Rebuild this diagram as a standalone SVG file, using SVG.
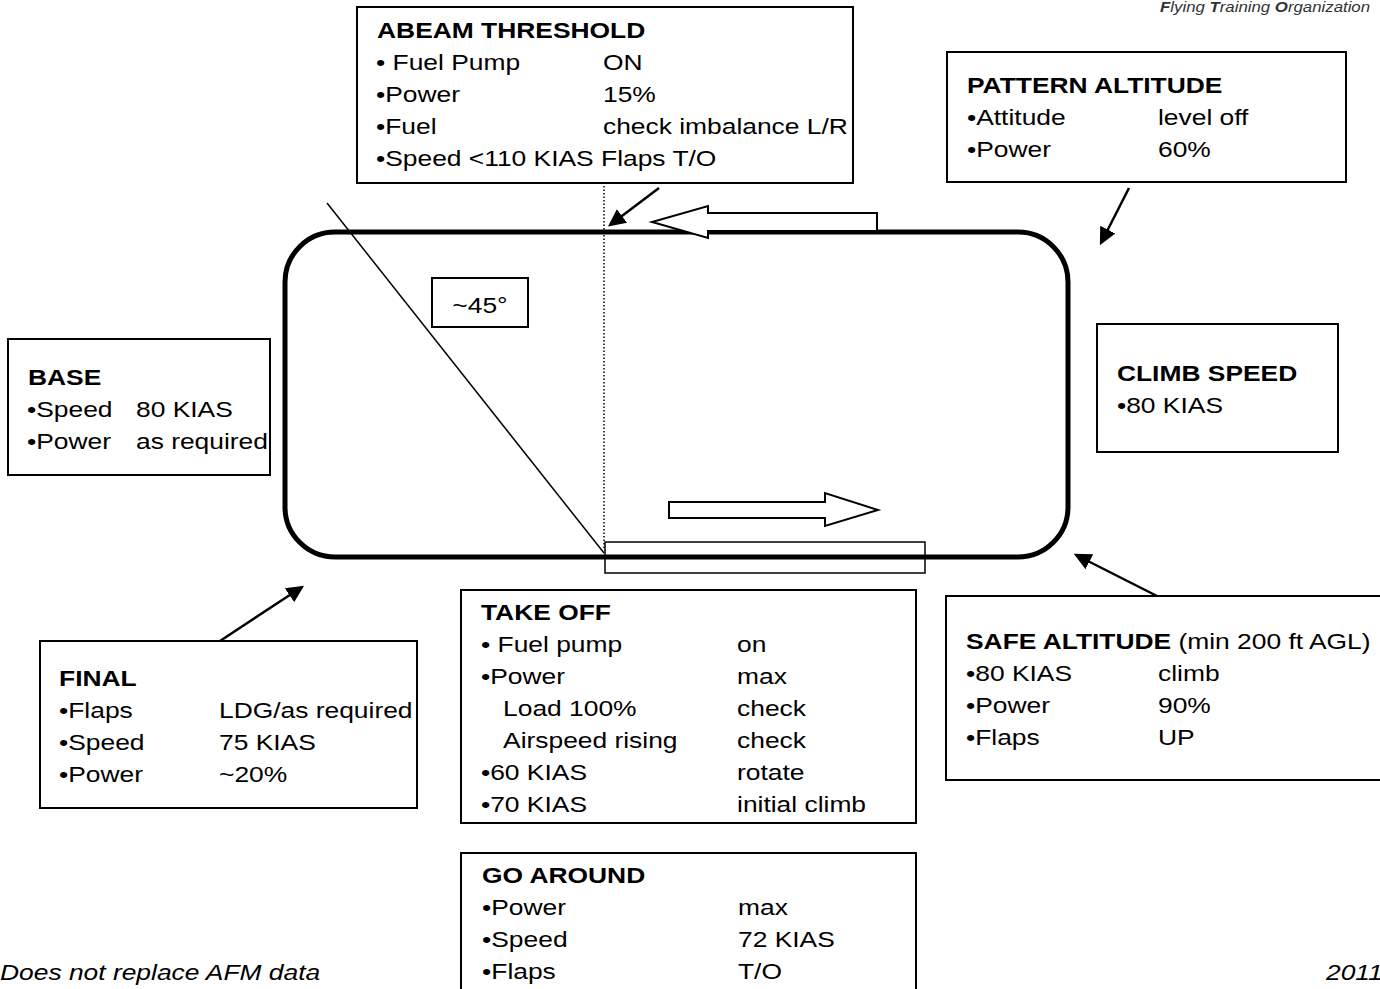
<svg xmlns="http://www.w3.org/2000/svg" width="1380" height="989" viewBox="0 0 1380 989">
<style>
text{font-family:"Liberation Sans",Arial,sans-serif;font-size:22px;fill:#000}
.b{font-weight:bold}
.box{fill:#fff;stroke:#000;stroke-width:2}
.thin{fill:none;stroke:#000;stroke-width:1.5}
.arr{fill:none;stroke:#000;stroke-width:2.5;marker-end:url(#ah)}
.blk{fill:#fff;stroke:#000;stroke-width:2}
</style>
<defs>
<marker id="ah" markerWidth="8" markerHeight="8" refX="6" refY="4" orient="auto" markerUnits="strokeWidth">
<path d="M0,0.6 L7,4 L0,7.4 Z" fill="#000"/>
</marker>
</defs>
<rect width="1380" height="989" fill="#fff"/>
<g id="header"><g transform="scale(1.2 1)"><text x="966.7" y="12" style="font-size:14px;font-style:italic;fill:#333"><tspan class="b">F</tspan>lying <tspan class="b">T</tspan>raining <tspan class="b">O</tspan>rganization</text></g></g>
<g id="pattern">
<rect x="285" y="232" width="783" height="325" rx="50" ry="50" fill="none" stroke="#000" stroke-width="5"/>
<rect x="605" y="542" width="320" height="31" class="thin"/>
<line x1="327" y1="203" x2="604" y2="553" class="thin"/>
<line x1="604" y1="172" x2="604" y2="550" stroke="#000" stroke-width="1.5" stroke-dasharray="1.5 2"/>
<polygon points="877,213 708,213 708,206 652,222 708,238 708,231 877,231" class="blk"/>
<polygon points="669,502 825,502 825,493 878,510 825,526 825,518 669,518" class="blk"/>
</g>
<g id="angle"><rect x="432" y="278" width="96" height="49" class="box" stroke-width="1.5"/><g transform="scale(1.2 1)"><text x="400" y="313" text-anchor="middle">~45°</text></g></g>
<g id="connectors">
<line x1="659" y1="188" x2="610" y2="225" class="arr"/>
<line x1="1129" y1="188" x2="1101" y2="243" class="arr"/>
<line x1="220" y1="641" x2="302" y2="587" class="arr"/>
<line x1="1157" y1="596" x2="1076" y2="555" class="arr"/>
</g>
<g id="abeam"><rect x="357" y="7" width="496" height="176" class="box"/>
<g transform="scale(1.2 1)">
<text x="314.2" y="38" class="b">ABEAM THRESHOLD</text>
<text x="313.3" y="70">• Fuel Pump</text><text x="502.5" y="70">ON</text>
<text x="313.3" y="102">•Power</text><text x="502.5" y="102">15%</text>
<text x="313.3" y="134">•Fuel</text><text x="502.5" y="134">check imbalance L/R</text>
<text x="313.3" y="166">•Speed &lt;110 KIAS Flaps T/O</text>
</g></g>
<g id="patalt"><rect x="947" y="52" width="399" height="130" class="box"/>
<g transform="scale(1.2 1)">
<text x="805.8" y="93" class="b">PATTERN ALTITUDE</text>
<text x="805.8" y="125">•Attitude</text><text x="965" y="125">level off</text>
<text x="805.8" y="157">•Power</text><text x="965" y="157">60%</text>
</g></g>
<g id="climb"><rect x="1097" y="324" width="241" height="128" class="box"/>
<g transform="scale(1.2 1)">
<text x="930.8" y="381" class="b">CLIMB SPEED</text>
<text x="930.8" y="413">•80 KIAS</text>
</g></g>
<g id="base"><rect x="8" y="339" width="262" height="136" class="box"/>
<g transform="scale(1.2 1)">
<text x="23.3" y="385" class="b">BASE</text>
<text x="22.5" y="417">•Speed</text><text x="113.3" y="417">80 KIAS</text>
<text x="22.5" y="449">•Power</text><text x="113.3" y="449">as required</text>
</g></g>
<g id="final"><rect x="40" y="641" width="377" height="167" class="box"/>
<g transform="scale(1.2 1)">
<text x="49.2" y="686" class="b">FINAL</text>
<text x="49.2" y="718">•Flaps</text><text x="182.5" y="718">LDG/as required</text>
<text x="49.2" y="750">•Speed</text><text x="182.5" y="750">75 KIAS</text>
<text x="49.2" y="782">•Power</text><text x="182.5" y="782">~20%</text>
</g></g>
<g id="takeoff"><rect x="461" y="590" width="455" height="233" class="box"/>
<g transform="scale(1.2 1)">
<text x="400.8" y="620" class="b">TAKE OFF</text>
<text x="400.8" y="652">• Fuel pump</text><text x="614.2" y="652">on</text>
<text x="400.8" y="684">•Power</text><text x="614.2" y="684">max</text>
<text x="419.2" y="716">Load 100%</text><text x="614.2" y="716">check</text>
<text x="419.2" y="748">Airspeed rising</text><text x="614.2" y="748">check</text>
<text x="400.8" y="780">•60 KIAS</text><text x="614.2" y="780">rotate</text>
<text x="400.8" y="812">•70 KIAS</text><text x="614.2" y="812">initial climb</text>
</g></g>
<g id="goaround"><rect x="461" y="853" width="455" height="140" class="box"/>
<g transform="scale(1.2 1)">
<text x="401.7" y="883" class="b">GO AROUND</text>
<text x="401.7" y="915">•Power</text><text x="615" y="915">max</text>
<text x="401.7" y="947">•Speed</text><text x="615" y="947">72 KIAS</text>
<text x="401.7" y="979">•Flaps</text><text x="615" y="979">T/O</text>
</g></g>
<g id="safe"><rect x="946" y="596" width="440" height="184" class="box"/>
<g transform="scale(1.2 1)">
<text x="805" y="649"><tspan class="b">SAFE ALTITUDE</tspan> (min 200 ft AGL)</text>
<text x="805" y="681">•80 KIAS</text><text x="965" y="681">climb</text>
<text x="805" y="713">•Power</text><text x="965" y="713"> 90%</text>
<text x="805" y="745">•Flaps</text><text x="965" y="745">UP</text>
</g></g>
<g id="footer"><g transform="scale(1.2 1)">
<text x="0" y="980" style="font-style:italic">Does not replace AFM data</text>
<text x="1105" y="980" style="font-style:italic">2011</text>
</g></g>
</svg>
